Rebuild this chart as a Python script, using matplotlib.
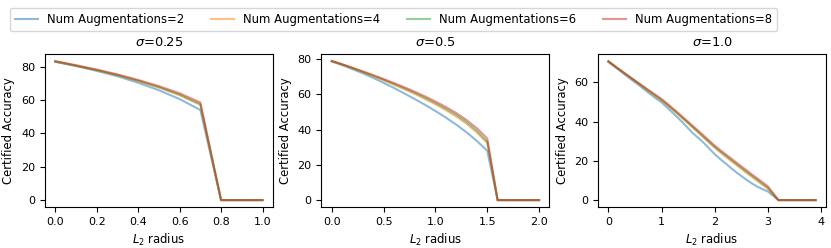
import numpy as np
import matplotlib
matplotlib.use("Agg")
import matplotlib.pyplot as plt

# certified accuracy vs L2 radius, per sigma and num augmentations
sigmas = [0.25, 0.5, 1.0]
num_aug = [2, 4, 6, 8]
colors = ['tab:blue', 'tab:orange', 'tab:green', 'tab:red']

radius_025 = np.round(np.arange(0, 1.01, 0.1), 2)
acc_025 = {
    2: [82.8, 80.3, 77.4, 74.2, 70.3, 65.8, 60.5, 54.0, 0, 0, 0],
    4: [83.0, 80.5, 77.8, 74.8, 71.3, 67.4, 62.8, 57.0, 0, 0, 0],
    6: [83.0, 80.5, 77.9, 74.9, 71.5, 67.7, 63.2, 57.5, 0, 0, 0],
    8: [83.3, 80.8, 78.2, 75.3, 72.0, 68.3, 64.0, 58.5, 0, 0, 0],
}

radius_05 = np.round(np.arange(0, 2.01, 0.1), 2)
acc_05 = {
    2: [78.8, 76.7, 74.4, 72.0, 69.4, 66.6, 63.7, 60.6, 57.4, 54.1, 50.6,
        46.9, 42.9, 38.5, 33.6, 28.0, 0, 0, 0, 0, 0],
    4: [78.8, 76.9, 74.8, 72.6, 70.3, 68.0, 65.5, 63.0, 60.3, 57.4, 54.4,
        51.1, 47.5, 43.4, 38.3, 32.5, 0, 0, 0, 0, 0],
    6: [79.0, 77.1, 75.0, 72.9, 70.7, 68.4, 66.0, 63.5, 60.9, 58.1, 55.1,
        51.9, 48.4, 44.3, 39.3, 33.2, 0, 0, 0, 0, 0],
    8: [79.0, 77.2, 75.2, 73.1, 71.0, 68.8, 66.5, 64.1, 61.6, 58.9, 56.0,
        52.9, 49.5, 45.5, 40.8, 35.0, 0, 0, 0, 0, 0],
}

radius_10 = np.round(np.arange(0, 3.91, 0.1), 2)
acc_10 = {
    2: [70.4, 68.3, 66.2, 64.1, 62.0, 60.0, 58.0, 55.8, 53.7, 51.7, 49.8,
        47.3, 44.7, 42.1, 39.5, 36.6, 33.8, 31.5, 29.0, 26.2, 23.4, 21.0,
        18.8, 16.5, 14.3, 12.3, 10.3, 8.5, 6.9, 5.6, 4.4, 2.2, 0,
        0, 0, 0, 0, 0, 0, 0],
    4: [70.6, 68.6, 66.6, 64.6, 62.6, 60.6, 58.6, 56.6, 54.6, 52.6, 50.7,
        48.5, 46.2, 43.9, 41.5, 39.1, 36.6, 34.1, 31.6, 29.1, 26.7, 24.4,
        22.2, 20.1, 18.0, 15.9, 13.8, 11.8, 9.8, 7.8, 5.8, 2.8, 0,
        0, 0, 0, 0, 0, 0, 0],
    6: [70.8, 68.7, 66.7, 64.7, 62.7, 60.7, 58.8, 56.8, 54.9, 52.9, 51.0,
        48.8, 46.5, 44.2, 41.8, 39.4, 36.9, 34.5, 32.0, 29.6, 27.1, 24.9,
        22.8, 20.7, 18.6, 16.5, 14.4, 12.4, 10.4, 8.3, 6.3, 3.0, 0,
        0, 0, 0, 0, 0, 0, 0],
    8: [70.5, 68.5, 66.6, 64.7, 62.8, 60.9, 59.0, 57.1, 55.2, 53.4, 51.5,
        49.3, 47.0, 44.7, 42.3, 39.9, 37.5, 35.1, 32.7, 30.2, 27.8, 25.6,
        23.5, 21.4, 19.3, 17.2, 15.2, 13.1, 11.1, 9.1, 7.1, 3.6, 0,
        0, 0, 0, 0, 0, 0, 0],
}

panels = [(radius_025, acc_025), (radius_05, acc_05), (radius_10, acc_10)]

fig, axes = plt.subplots(1, 3, figsize=(8.31, 2.48), dpi=100)
fig.subplots_adjust(left=0.054, right=0.994, bottom=0.165, top=0.782, wspace=0.213)

for ax, sigma, (radius, acc) in zip(axes, sigmas, panels):
    for n, c in zip(num_aug, colors):
        ax.plot(radius, acc[n], color=c, alpha=0.5, label=f"Num Augmentations={n}")
    ax.set_title(rf"$\sigma$={sigma}", fontsize=9.4)
    ax.set_xlabel(r"$L_2$ radius", fontsize=8.4)
    ax.set_ylabel("Certified Accuracy", fontsize=8.4)
    ax.tick_params(labelsize=8)

handles, labels = axes[0].get_legend_handles_labels()
fig.legend(handles, labels, loc='upper left', ncol=4, fontsize=8.4,
           columnspacing=2.25, bbox_to_anchor=(0.005, 0.99), frameon=True)

fig.savefig("out.png", dpi=100)
